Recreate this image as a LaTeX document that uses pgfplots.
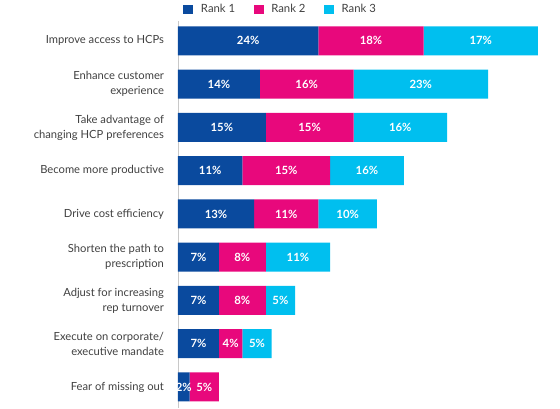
\documentclass[border=0pt]{standalone}
\usepackage{pgfplots}
\usepackage{pgfplotstable}
\pgfplotsset{compat=1.18}
\usepackage{fontspec}
\setmainfont{Lato}
\definecolor{rone}{HTML}{0A4A9E}
\definecolor{rtwo}{HTML}{E8087C}
\definecolor{rthree}{HTML}{00BFEF}
\definecolor{lbl}{HTML}{404040}
\definecolor{axl}{HTML}{C8C8C8}

\pgfplotstableread{
y len lab
8 24 24
7 14 14
6 15 15
5 11 11
4 13 13
3 7 7
2 7 7
1 7 7
0 2 2
}\rankone
\pgfplotstableread{
y len lab
8 18 18
7 16 16
6 15 15
5 15 15
4 11 11
3 8 8
2 8 8
1 4 4
0 5 5
}\ranktwo
\pgfplotstableread{
y len lab
8 19.5 17
7 23 23
6 16 16
5 12.6 16
4 10 10
3 11 11
2 5 5
1 5 5
}\rankthree

\begin{document}
\begin{tikzpicture}
\begin{axis}[
  name=ax, at={(0,0)}, anchor=south west,
  scale only axis,
  width=285.2pt, height=290.25pt,
  xbar stacked,
  bar width=0.67,
  xmin=0, xmax=65,
  ymin=-0.486, ymax=8.46,
  axis x line=none,
  axis y line*=left,
  axis line style={draw=axl, line width=0.6pt},
  ytick={0,...,8},
  major tick length=0pt,
  yticklabels={{Fear of missing out},{Execute on corporate/\\executive mandate},{Adjust for increasing\\rep turnover},{Shorten the path to\\prescription},{Drive cost efficiency},{Become more productive},{Take advantage of\\changing HCP preferences},{Enhance customer\\experience},{Improve access to HCPs}},
  yticklabel style={align=right, font=\fontsize{8.4}{11.25}\selectfont, text=lbl, xshift=-7pt},
  point meta=explicit symbolic,
  nodes near coords={\pgfplotspointmeta\%},
  nodes near coords style={anchor=center, text=white, font=\fontsize{8.5}{10}\bfseries},
  legend columns=-1,
  legend image code/.code={\fill[#1] (0pt,-3.6pt) rectangle (7.5pt,3.6pt);},
  legend style={at={(0,1)}, anchor=west, xshift=3.75pt, yshift=8.6pt, draw=none, fill=none, inner sep=0pt, font=\fontsize{8.5}{10}\selectfont, text=lbl, nodes={inner sep=0pt}, /tikz/every odd column/.append style={column sep=5.8pt}, /tikz/every even column/.append style={column sep=13.8pt}},
]
\addplot[fill=rone, draw=none] table[x=len, y=y, meta=lab] {\rankone};
\addplot[fill=rtwo, draw=none] table[x=len, y=y, meta=lab] {\ranktwo};
\addplot[fill=rthree, draw=none] table[x=len, y=y, meta=lab] {\rankthree};
\legend{Rank 1, Rank 2, Rank 3}
\end{axis}
\pgfresetboundingbox
\path[use as bounding box] ([xshift=-133.5pt]ax.south west) rectangle ([xshift=286.5pt, yshift=306pt]ax.south west);
\end{tikzpicture}
\end{document}
